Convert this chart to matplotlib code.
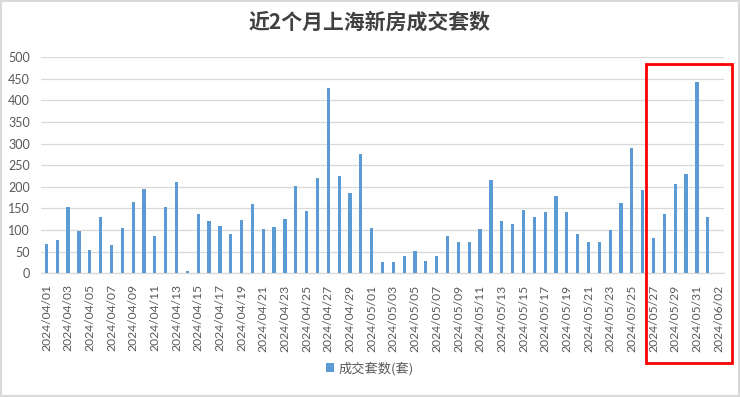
import matplotlib
matplotlib.use("Agg")
import matplotlib.pyplot as plt
from matplotlib.patches import Rectangle
import pandas as pd

plt.rcParams['font.family'] = ['Lato', 'Noto Sans CJK SC', 'DejaVu Sans']

# daily deals, 2024/04/01 .. 2024/06/02 (06/02 has no bar)
dates = pd.date_range('2024-04-01', '2024-06-02', freq='D').strftime('%Y/%m/%d').tolist()
deals = [67, 77, 154, 99, 55, 130, 66, 106, 164, 194,
         87, 154, 211, 6, 137, 122, 110, 91, 124, 160,
         102, 108, 125, 203, 145, 221, 429, 225, 187, 276,
         106, 27, 27, 40, 52, 29, 39, 86, 72, 72,
         103, 216, 121, 115, 147, 130, 141, 178, 143, 90,
         72, 72, 100, 163, 289, 193, 82, 138, 206, 230,
         442, 130, 0]
yticks = [0, 50, 100, 150, 200, 250, 300, 350, 400, 450, 500]

title = '近2个月上海新房成交套数'
series_name = '成交套数(套)'
bar_color = '#5B9BD5'
grid_color = '#D9D9D9'
text_color = '#595959'

fig = plt.figure(figsize=(7.4, 3.97), dpi=100)
ax = fig.add_axes([0.0554, 0.3116, 0.923, 0.5441])

x = range(len(dates))
ax.bar(x, deals, width=0.3, color=bar_color, label=series_name, zorder=3)

ax.set_xlim(-0.5, len(dates) - 0.5)
ax.set_ylim(0, 500)
ax.set_yticks(yticks)
ax.set_xticks(list(x)[::2])
ax.set_xticklabels(dates[::2], rotation=90, fontsize=8.7, color=text_color)
ax.tick_params(axis='y', labelsize=9, labelcolor=text_color, length=0, pad=8)
ax.tick_params(axis='x', length=0, pad=8)
ax.grid(axis='y', color=grid_color, linewidth=0.9, zorder=0)
for s in ['top', 'right', 'left']:
    ax.spines[s].set_visible(False)
ax.spines['bottom'].set_color(grid_color)
ax.spines['bottom'].set_linewidth(0.9)

fig.suptitle(title, x=0.5, y=0.97, fontsize=15, fontweight='bold', color='#404040',
             family=['Noto Sans CJK SC', 'DejaVu Sans'])

fig.legend(loc='lower center', bbox_to_anchor=(0.5, 0.025), frameon=False,
           handlelength=0.6, handleheight=0.6, handletextpad=0.4,
           prop={'family': ['Noto Sans CJK SC', 'DejaVu Sans'], 'size': 9.5},
           labelcolor=text_color)

# red highlight box on the last week
W, H = 740.0, 397.0
fig.patches.append(Rectangle((646 / W, (H - 363) / H), (732 - 646) / W, (363 - 64) / H,
                             transform=fig.transFigure, fill=False,
                             edgecolor='#FF0000', linewidth=2))
# chart border
fig.patches.append(Rectangle((0.001, 0.002), 0.997, 0.995, transform=fig.transFigure,
                             fill=False, edgecolor='#D9D9D9', linewidth=1.5))

fig.savefig('out.png', dpi=100, facecolor='white')
